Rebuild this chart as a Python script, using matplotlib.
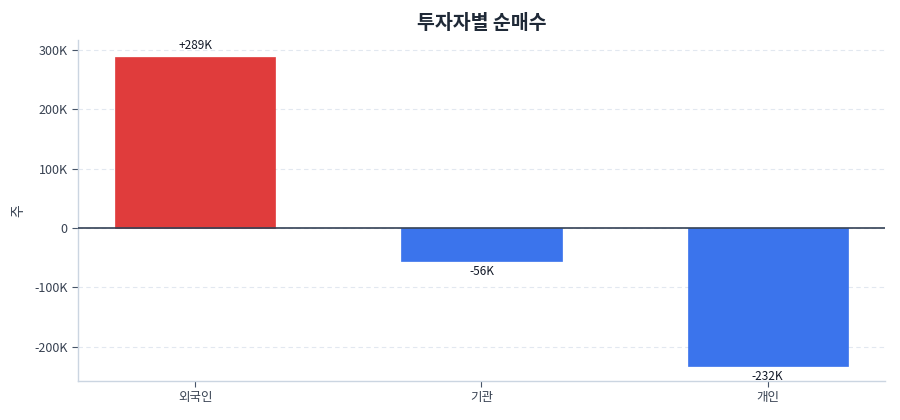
import matplotlib
matplotlib.use("Agg")
import matplotlib.pyplot as plt
from matplotlib.ticker import FuncFormatter

plt.rcParams['font.family'] = ['Noto Sans CJK KR', 'DejaVu Sans']

categories = ['외국인', '기관', '개인']
values = [289000, -56000, -232000]
labels = ['+289K', '-56K', '-232K']
pos_color = '#E03C3C'
neg_color = '#3B74EC'

fig = plt.figure(figsize=(9, 4.2), dpi=100)
ax = fig.add_axes([0.0867, 0.0929, 0.8966, 0.8119])

x = list(range(len(categories)))
colors = [pos_color if v >= 0 else neg_color for v in values]
bars = ax.bar(x, values, width=0.56, color=colors, edgecolor=colors, linewidth=0.5, zorder=2)

for xi, v, lab in zip(x, values, labels):
    if v >= 0:
        ax.annotate(lab, (xi, v), xytext=(0, 3), textcoords='offset points',
                    ha='center', va='bottom', fontsize=8.5, color='#111827')
    else:
        ax.annotate(lab, (xi, v), xytext=(0, -3), textcoords='offset points',
                    ha='center', va='top', fontsize=8.5, color='#111827')

ax.axhline(0, color='#334155', linewidth=1.2, zorder=3)
ax.set_xlim(-0.41, 2.41)
ax.set_ylim(-258000, 317000)
ax.set_yticks([-200000, -100000, 0, 100000, 200000, 300000])
ax.yaxis.set_major_formatter(FuncFormatter(lambda v, p: '0' if v == 0 else f'{int(v/1000)}K'))
ax.set_xticks(x)
ax.set_xticklabels(categories)
ax.grid(axis='y', linestyle=(0, (4, 3)), color='#e2e8f0', linewidth=0.8, zorder=0)
ax.set_axisbelow(True)

for s in ['top', 'right']:
    ax.spines[s].set_visible(False)
for s in ['left', 'bottom']:
    ax.spines[s].set_color('#cbd5e1')
    ax.spines[s].set_linewidth(1)

ax.tick_params(axis='both', colors='#475569', labelcolor='#374151', labelsize=9, length=4, width=0.8)
ax.set_ylabel('주', fontsize=10, color='#374151', labelpad=6)
ax.set_title('투자자별 순매수', fontsize=14, fontweight='bold', color='#1f2937', pad=8)

fig.savefig('out.png', dpi=100, facecolor='white')
